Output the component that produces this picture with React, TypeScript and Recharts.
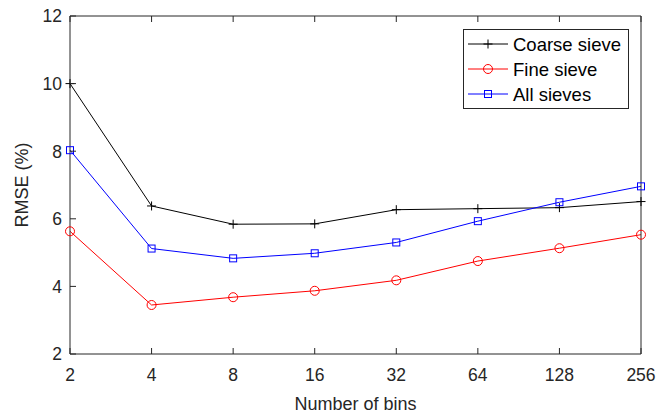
import { LineChart, Line, XAxis, YAxis, Label } from 'recharts';

// number of bins (log2 spaced, drawn as evenly spaced categories)
const bins = ['2', '4', '8', '16', '32', '64', '128', '256'];
const coarseSieve = [10.0, 6.38, 5.84, 5.85, 6.27, 6.3, 6.33, 6.51];
const fineSieve = [5.63, 3.45, 3.68, 3.87, 4.18, 4.75, 5.13, 5.53];
const allSieves = [8.03, 5.12, 4.83, 4.98, 5.3, 5.93, 6.49, 6.96];
const yTicks = [2, 4, 6, 8, 10, 12];

const seriesNames = ['Coarse sieve', 'Fine sieve', 'All sieves'];
const seriesColors = ['#000000', '#ff0000', '#0000ff'];

const data = bins.map((b, i) => ({
  bins: b,
  coarse: coarseSieve[i],
  fine: fineSieve[i],
  all: allSieves[i],
}));

const FONT = '"Liberation Sans", Arial, Helvetica, sans-serif';
const AXIS = '#262626';

const Marker = ({ kind, cx, cy, color }: { kind: number; cx: number; cy: number; color: string }) => {
  if (kind === 0)
    return (
      <path
        d={`M${cx - 4.5},${cy}H${cx + 4.5}M${cx},${cy - 4.5}V${cy + 4.5}`}
        stroke={color}
        strokeWidth={1}
        fill='none'
      />
    );
  if (kind === 1) return <circle cx={cx} cy={cy} r={4.5} stroke={color} strokeWidth={1} fill='none' />;
  return <rect x={cx - 3.5} y={cy - 3.5} width={7} height={7} stroke={color} strokeWidth={1} fill='none' />;
};

const dotFor = (kind: number) => (props: any) => {
  const { cx, cy, index } = props;
  return (
    <g key={`d-${kind}-${index}`}>
      <Marker kind={kind} cx={cx} cy={cy} color={seriesColors[kind]} />
    </g>
  );
};

const BottomTick = (props: any) => {
  const { x, y, payload } = props;
  return (
    <g>
      <line x1={x} x2={x} y1={y} y2={y - 6} stroke={AXIS} />
      <text x={x} y={y + 27} textAnchor='middle' fill={AXIS} fontSize={17.5} fontFamily={FONT}>
        {payload.value}
      </text>
    </g>
  );
};

const TopTick = (props: any) => {
  const { x, y } = props;
  return <line x1={x} x2={x} y1={y} y2={y + 6} stroke={AXIS} />;
};

const LeftTick = (props: any) => {
  const { x, y, payload } = props;
  return (
    <g>
      <line x1={x} x2={x + 6} y1={y} y2={y} stroke={AXIS} />
      <text x={x - 8} y={y} dy='0.36em' textAnchor='end' fill={AXIS} fontSize={17.5} fontFamily={FONT}>
        {payload.value}
      </text>
    </g>
  );
};

const RightTick = (props: any) => {
  const { x, y } = props;
  return <line x1={x} x2={x - 6} y1={y} y2={y} stroke={AXIS} />;
};

const LegendBox = () => (
  <div
    style={{
      position: 'absolute',
      left: 463,
      top: 29,
      width: 166,
      height: 80,
      boxSizing: 'border-box',
      border: `1px solid ${AXIS}`,
      background: '#fff',
    }}
  >
    <svg width={164} height={78} style={{ display: 'block' }}>
      {seriesNames.map((name, i) => {
        const cy = 14 + i * 25;
        return (
          <g key={name}>
            <line x1={4} x2={44} y1={cy} y2={cy} stroke={seriesColors[i]} strokeWidth={1} />
            <Marker kind={i} cx={24} cy={cy} color={seriesColors[i]} />
            <text x={49} y={cy} dy='0.36em' fontSize={18.5} fontFamily={FONT} fill='#000'>
              {name}
            </text>
          </g>
        );
      })}
    </svg>
  </div>
);

const App = () => (
  <div style={{ position: 'absolute', left: 0, top: 0, width: 656, height: 417, background: '#fff' }}>
    <LineChart
      width={656}
      height={417}
      data={data}
      margin={{ top: 15, right: 14, left: 0, bottom: 0 }}
      style={{ fontFamily: FONT }}
    >
      <XAxis
        dataKey='bins'
        xAxisId={0}
        height={63}
        padding={{ left: 0, right: 0 }}
        stroke={AXIS}
        tickLine={false}
        tickSize={0}
        tickMargin={0}
        interval={0}
        tick={<BottomTick />}
      >
        <Label
          value='Number of bins'
          position='insideBottom'
          offset={7}
          fill={AXIS}
          fontSize={18}
          fontFamily={FONT}
        />
      </XAxis>
      <XAxis
        dataKey='bins'
        xAxisId='top'
        orientation='top'
        height={1}
        padding={{ left: 0, right: 0 }}
        stroke={AXIS}
        tickLine={false}
        tickSize={0}
        tickMargin={0}
        interval={0}
        tick={<TopTick />}
      />
      <YAxis
        yAxisId={0}
        width={70}
        domain={[2, 12]}
        ticks={yTicks}
        interval={0}
        stroke={AXIS}
        tickLine={false}
        tickSize={0}
        tickMargin={0}
        tick={<LeftTick />}
      >
        <Label
          value='RMSE (%)'
          angle={-90}
          position='insideLeft'
          offset={22}
          style={{ textAnchor: 'middle' }}
          fill={AXIS}
          fontSize={18}
          fontFamily={FONT}
        />
      </YAxis>
      <YAxis
        yAxisId='right'
        orientation='right'
        width={1}
        domain={[2, 12]}
        ticks={yTicks}
        interval={0}
        stroke={AXIS}
        tickLine={false}
        tickSize={0}
        tickMargin={0}
        tick={<RightTick />}
      />
      <Line
        dataKey='coarse'
        name={seriesNames[0]}
        stroke={seriesColors[0]}
        strokeWidth={1}
        dot={dotFor(0)}
        activeDot={false}
        isAnimationActive={false}
      />
      <Line
        dataKey='fine'
        name={seriesNames[1]}
        stroke={seriesColors[1]}
        strokeWidth={1}
        dot={dotFor(1)}
        activeDot={false}
        isAnimationActive={false}
      />
      <Line
        dataKey='all'
        name={seriesNames[2]}
        stroke={seriesColors[2]}
        strokeWidth={1}
        dot={dotFor(2)}
        activeDot={false}
        isAnimationActive={false}
      />
    </LineChart>
    <LegendBox />
  </div>
);

export default App;
